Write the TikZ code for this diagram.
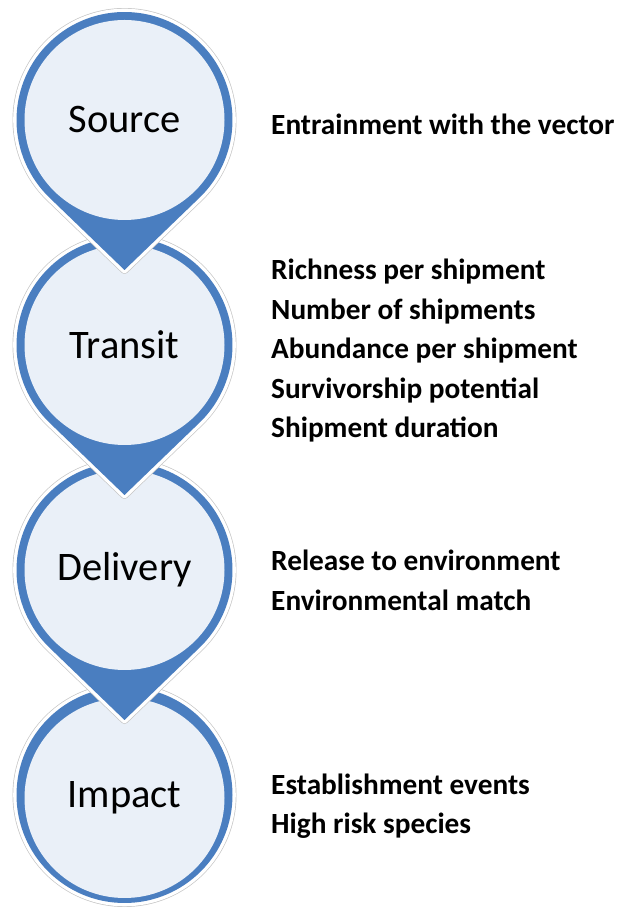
\documentclass[tikz,border=0pt]{standalone}
\usepackage{fontspec}
\setmainfont{Carlito}
\usepackage{tikz}
\usetikzlibrary{calc}

\definecolor{ringblue}{RGB}{74,126,192}
\definecolor{paleblue}{RGB}{234,240,248}

\tikzset{
  stage/.style={circle,fill=paleblue,minimum size=200pt,inner sep=0pt,
    font=\fontsize{40.5}{48}\selectfont},
  facts/.style={anchor=west,align=left,inner xsep=0pt,
    font=\fontsize{29.3}{39.5}\selectfont\bfseries},
}

\begin{document}
\begin{tikzpicture}[x=1pt,y=1pt]
\useasboundingbox (0,0) rectangle (619,914);
% bottom circle first, the others lie over it
\foreach \w/\col in {8/gray!45,6.6/white}
  \draw[\col,line width=\w pt] (124.5,119) circle (108);
\fill[ringblue] (124.5,119) circle (108);
\node[stage] (impact) at (124.5,116) {Impact};
\foreach \name/\lab/\cy in {delivery/Delivery/344,transit/Transit/569,source/Source/794}{
  \path (124.5,\cy) coordinate (\name c) ++(0,-150) coordinate (\name tip);
  \foreach \w/\col in {8/gray!45,6.6/white}
    \draw[\col,line width=\w pt,line join=round] (\name tip) -- ($(\name c)+(226.1:108)$)
      arc[start angle=226.1,end angle=-46.1,radius=108] -- cycle;
  \fill[ringblue] (\name tip) -- ($(\name c)+(226.1:108)$)
      arc[start angle=226.1,end angle=-46.1,radius=108] -- cycle;
  \node[stage] (\name) at (\name c) {\lab};
}

\node[facts] (entrain) at (271,790) {Entrainment with the vector};
\node[facts] (shipping) at (271,563) {Richness per shipment\\Number of shipments\\
  Abundance per shipment\\Survivorship potential\\Shipment duration};
\node[facts] (release) at (271,333.5) {Release to environment\\Environmental match};
\node[facts] (establish) at (271,108) {Establishment events\\High risk species};
\end{tikzpicture}
\end{document}
